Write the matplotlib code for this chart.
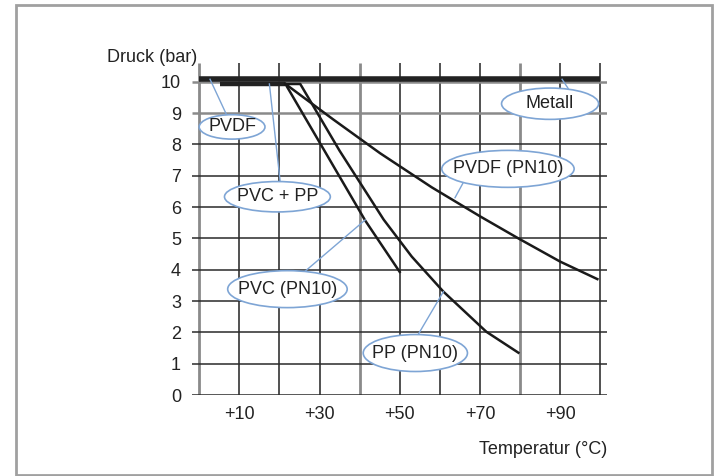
import numpy as np
import matplotlib.pyplot as plt
from matplotlib.patches import Ellipse, Rectangle

plt.rcParams["font.family"] = ["Liberation Sans", "DejaVu Sans"]

# data
x_ticks = [10, 30, 50, 70, 90]
x_tick_labels = ["+10", "+30", "+50", "+70", "+90"]
y_ticks = list(range(0, 11))

metall_x = [0, 100]
metall_y = [10.08, 10.08]

pvc_pp_x = [5.3, 21.5]
pvc_pp_y = [9.93, 9.93]

pvc_x = [21.5, 31.0, 41.4, 50.0]
pvc_y = [9.93, 7.85, 5.57, 3.93]

pp_x = [21.5, 25.2, 35.0, 46.0, 53.0, 60.9, 71.6, 79.6]
pp_y = [9.93, 9.93, 7.8, 5.6, 4.42, 3.3, 2.02, 1.35]

pvdf_x = [21.5, 33.4, 45.1, 58.0, 70.1, 79.6, 90.0, 99.3]
pvdf_y = [9.93, 8.8, 7.72, 6.63, 5.70, 5.0, 4.26, 3.7]

# label layout: text, centre, ellipse size, pointer start, pointer end
labels = [
    ("PVDF", (8.2, 8.56), (16.4, 0.78), (6.7, 8.98), (2.7, 10.08)),
    ("PVC + PP", (19.5, 6.33), (26.4, 0.97), (20.2, 6.8), (17.5, 9.93)),
    ("Metall", (87.5, 9.3), (24.2, 1.0), (92.0, 9.79), (90.5, 10.08)),
    ("PVDF (PN10)", (77.0, 7.22), (33.0, 1.18), (65.8, 6.77), (63.8, 6.3)),
    ("PVC (PN10)", (22.0, 3.38), (29.8, 1.18), (26.4, 3.95), (41.4, 5.59)),
    ("PP (PN10)", (53.9, 1.34), (26.0, 1.18), (54.6, 1.93), (60.9, 3.3)),
]

text_col = "#222222"
line_col = "#1a1a1a"
blue = "#7ea5d5"

fig = plt.figure(figsize=(7.15, 4.76), dpi=100)
fig.patches.append(Rectangle((16 / 715, 1.5 / 476), 696 / 715, 470 / 476,
                             transform=fig.transFigure, fill=False,
                             edgecolor="#a0a0a0", linewidth=2))

ax = fig.add_axes([192 / 715, 81 / 476, 415 / 715, 332 / 476])
ax.set_xlim(-1.8, 101.7)
ax.set_ylim(0, 10.6)
for s in ax.spines.values():
    s.set_visible(False)

# grid
for xv in range(0, 101, 10):
    grey = xv in (0, 40, 80)
    ax.vlines(xv, 0, 10.6, color="#8a8a8a" if grey else "#222222",
              linewidth=2.0 if grey else 1.1, zorder=1)
for yv in y_ticks:
    grey = yv in (9, 10)
    ax.hlines(yv, -1.8, 101.7, color="#8a8a8a" if grey else "#2a2a2a",
              linewidth=1.8 if grey else 1.1, zorder=1)

ax.set_xticks(x_ticks)
ax.set_xticklabels(x_tick_labels)
ax.set_yticks(y_ticks)
ax.tick_params(length=0, labelsize=13, colors=text_col)
ax.tick_params(axis="x", pad=8)
ax.tick_params(axis="y", pad=8)

# curves
ax.plot(metall_x, metall_y, color="#222222", linewidth=4, solid_capstyle="butt", zorder=3)
ax.plot(pvc_pp_x, pvc_pp_y, color="#222222", linewidth=3.2, solid_capstyle="butt", zorder=3)
ax.plot(pvc_x, pvc_y, color=line_col, linewidth=1.8, zorder=3)
ax.plot(pp_x, pp_y, color=line_col, linewidth=1.8, zorder=3)
ax.plot(pvdf_x, pvdf_y, color=line_col, linewidth=1.8, zorder=3)

for text, c, size, p0, p1 in labels:
    ax.plot([p0[0], p1[0]], [p0[1], p1[1]], color=blue, linewidth=1.0, zorder=4)
    ax.add_patch(Ellipse(c, size[0], size[1], facecolor="white",
                         edgecolor=blue, linewidth=1.2, zorder=5))
    ax.text(c[0], c[1], text, ha="center", va="center", fontsize=13,
            color=text_col, zorder=6)

fig.text(197 / 715, 1 - 57 / 476, "Druck (bar)", ha="right", va="center",
         fontsize=13, color=text_col)
fig.text(607 / 715, 1 - 449 / 476, "Temperatur (°C)", ha="right", va="center",
         fontsize=13, color=text_col)

fig.savefig("out.png", dpi=100)
